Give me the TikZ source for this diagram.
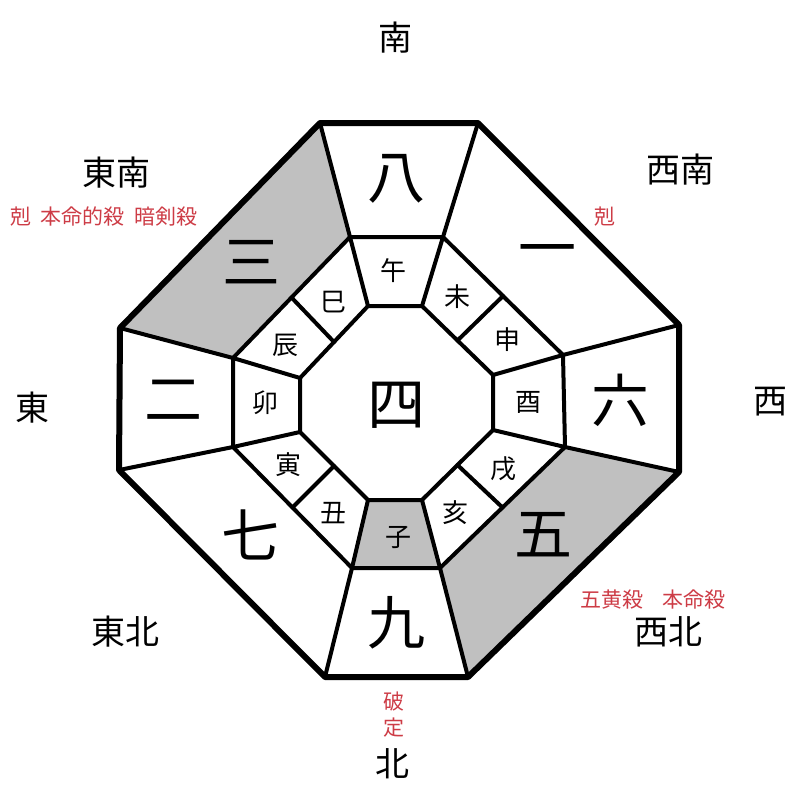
\documentclass[tikz,border=0pt]{standalone}
\usepackage{fontspec}
\usetikzlibrary{calc}
\newfontfamily\cjk{Noto Sans CJK JP}
\definecolor{cellgray}{RGB}{192,192,192}
\definecolor{redtxt}{RGB}{205,60,70}
\begin{document}
\begin{tikzpicture}[x=1pt,y=-1pt,
  outerline/.style={line width=6pt,line join=round},
  innerline/.style={line width=4pt,line join=round,line cap=round},
  numtxt/.style={font=\cjk\fontsize{58}{58}\selectfont},
  branchtxt/.style={font=\cjk\fontsize{26}{26}\selectfont},
  dirtxt/.style={font=\cjk\fontsize{34}{34}\selectfont},
  redlbl/.style={font=\cjk\fontsize{21}{21}\selectfont,text=redtxt},
  every node/.style={inner sep=0pt}]
\useasboundingbox (0,0) rectangle (800,800);
% outer octagon
\coordinate (O1) at (320,123);
\coordinate (O2) at (478,123);
\coordinate (O3) at (679,325);
\coordinate (O4) at (679,472);
\coordinate (O5) at (468,677);
\coordinate (O6) at (325,677);
\coordinate (O7) at (119,470);
\coordinate (O8) at (120,328);
% middle octagon
\coordinate (M1) at (350,237);
\coordinate (M2) at (443,237);
\coordinate (M3) at (563,355);
\coordinate (M4) at (565,447);
\coordinate (M5) at (440,568);
\coordinate (M6) at (352,568);
\coordinate (M7) at (233,447);
\coordinate (M8) at (233,358);
% inner octagon
\coordinate (I1) at (368,306);
\coordinate (I2) at (422,306);
\coordinate (I3) at (493,375);
\coordinate (I4) at (493,430);
\coordinate (I5) at (422,500);
\coordinate (I6) at (368,500);
\coordinate (I7) at (300,432);
\coordinate (I8) at (300,378);
% gray cells
\fill[cellgray] (O8) -- (O1) -- (M1) -- (M8) -- cycle;
\fill[cellgray] (O4) -- (O5) -- (M5) -- (M4) -- cycle;
\fill[cellgray] (M6) -- (M5) -- (I5) -- (I6) -- cycle;
% middle and inner octagons
\draw[innerline] (M1) -- (M2) -- (M3) -- (M4) -- (M5) -- (M6) -- (M7) -- (M8) -- cycle;
\draw[innerline] (I1) -- (I2) -- (I3) -- (I4) -- (I5) -- (I6) -- (I7) -- (I8) -- cycle;
% spokes outer-middle
\foreach \k in {1,...,8} {\draw[innerline] (O\k) -- (M\k);}
% spokes middle-inner
\foreach \k in {1,...,8} {\draw[innerline] (M\k) -- (I\k);}
% diagonal splits
\draw[innerline] ($(M2)!0.5!(M3)$) -- ($(I2)!0.5!(I3)$);
\draw[innerline] ($(M4)!0.5!(M5)$) -- ($(I4)!0.5!(I5)$);
\draw[innerline] ($(M6)!0.5!(M7)$) -- ($(I6)!0.5!(I7)$);
\draw[innerline] ($(M8)!0.5!(M1)$) -- ($(I8)!0.5!(I1)$);
% outer octagon
\draw[outerline] (O1) -- (O2) -- (O3) -- (O4) -- (O5) -- (O6) -- (O7) -- (O8) -- cycle;
% numbers
\node[numtxt] (n8) at (396,179) {八};
\node[numtxt] (n1) at (547,257) {一};
\node[numtxt] (n6) at (620,400) {六};
\node[numtxt] (n5) at (543,535) {五};
\node[numtxt] (n9) at (396,623) {九};
\node[numtxt] (n7) at (250,535) {七};
\node[numtxt] (n2) at (173,400) {二};
\node[numtxt] (n3) at (251,262) {三};
\node[numtxt] (n4) at (396,405) {四};
% branches
\node[branchtxt] (bwu) at (393,271) {午};
\node[branchtxt] (bwei) at (457,297) {未};
\node[branchtxt] (bshen) at (507,340) {申};
\node[branchtxt] (byou) at (528,402) {酉};
\node[branchtxt] (bxu) at (503,469) {戌};
\node[branchtxt] (bhai) at (455,513) {亥};
\node[branchtxt] (bzi) at (398,537) {子};
\node[branchtxt] (bchou) at (333,513) {丑};
\node[branchtxt] (byin) at (288,465) {寅};
\node[branchtxt] (bmao) at (265,403) {卯};
\node[branchtxt] (bchen) at (285,345) {辰};
\node[branchtxt] (bsi) at (333,302) {巳};
% directions
\node[dirtxt] (dS) at (395,38) {南};
\node[dirtxt] (dSE) at (116,173) {東南};
\node[dirtxt] (dSW) at (680,170) {西南};
\node[dirtxt] (dE) at (32,408) {東};
\node[dirtxt] (dW) at (770,402) {西};
\node[dirtxt] (dNE) at (125,632) {東北};
\node[dirtxt] (dNW) at (668,632) {西北};
\node[dirtxt] (dN) at (392,764) {北};
% red labels
\node[redlbl] (rSE) at (104,217) {剋\hspace{0.45em}本命的殺\hspace{0.45em}暗剣殺};
\node[redlbl] (rSW) at (605,217) {剋};
\node[redlbl] (rNW) at (653,600) {五黄殺\hspace{0.9em}本命殺};
\node[redlbl] (rN1) at (394,702) {破};
\node[redlbl] (rN2) at (394,728) {定};
\end{tikzpicture}
\end{document}
